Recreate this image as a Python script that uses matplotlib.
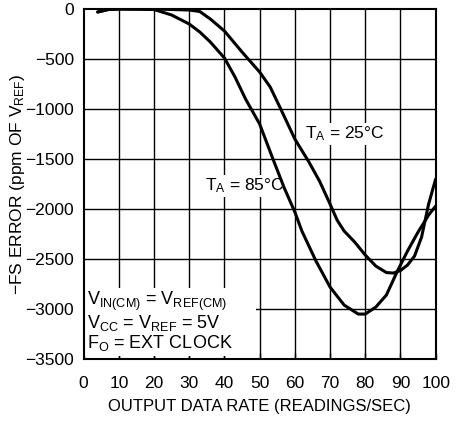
import matplotlib.pyplot as plt
from matplotlib.patches import Rectangle

plt.rcParams["font.family"] = ["Liberation Sans", "DejaVu Sans"]
plt.rcParams["mathtext.default"] = "regular"

rate_25 = [4, 7, 10, 20, 30, 33, 36, 40, 45, 50, 53, 56, 60, 64, 67, 70, 72, 74,
           77, 80, 83, 86, 88, 90, 92, 94, 96, 98, 100]
err_25 = [-30, -5, 0, 0, -10, -25, -100, -220, -430, -630, -780, -1000, -1300,
          -1530, -1720, -1950, -2110, -2220, -2330, -2460, -2570, -2635, -2640,
          -2615, -2560, -2470, -2280, -1950, -1700]

rate_85 = [4, 7, 10, 20, 25, 30, 33, 36, 40, 43, 46, 50, 54, 57, 60, 62, 66, 70,
           74, 78, 80, 83, 86, 89, 92, 95, 98, 100]
err_85 = [-30, -5, 0, -5, -60, -150, -230, -330, -490, -680, -900, -1150, -1520,
          -1790, -2030, -2220, -2520, -2780, -2960, -3050, -3050, -2980, -2860,
          -2630, -2420, -2230, -2060, -1970]

x_ticks = [0, 10, 20, 30, 40, 50, 60, 70, 80, 90, 100]
y_ticks = [0, -500, -1000, -1500, -2000, -2500, -3000, -3500]
y_labels = ["0", "−500", "−1000", "−1500", "−2000", "−2500", "−3000", "−3500"]

note = ("V$_{IN(CM)}$ = V$_{REF(CM)}$\n"
        "V$_{CC}$ = V$_{REF}$ = 5V\n"
        "F$_O$ = EXT CLOCK")

fig = plt.figure(figsize=(4.62, 4.29), dpi=100)
ax = fig.add_axes([0.181, 0.163, 0.762, 0.816])

# grid drawn by hand so the note box can sit over it
for xv in x_ticks[1:-1]:
    ax.axvline(xv, color="black", lw=1.0, zorder=1)
for yv in y_ticks[1:-1]:
    ax.axhline(yv, color="black", lw=1.0, zorder=1)

# white area behind the conditions note
ax.add_patch(Rectangle((0.3, -3470), 48.6, 680, facecolor="white",
                       edgecolor="none", zorder=2))

ax.plot(rate_25, err_25, color="black", lw=2.2, zorder=4,
        solid_capstyle="round")
ax.plot(rate_85, err_85, color="black", lw=2.2, zorder=4,
        solid_capstyle="round")

ax.set_xlim(0, 100)
ax.set_ylim(-3500, 0)
ax.set_xticks(x_ticks)
ax.set_yticks(y_ticks)
ax.set_yticklabels(y_labels)
ax.tick_params(axis="x", direction="in", length=4, width=1, labelsize=12.5,
               pad=12)
ax.tick_params(axis="y", length=0, labelsize=12.5, pad=7)
for s in ax.spines.values():
    s.set_linewidth(1.5)
    s.set_zorder(5)

ax.set_xlabel("OUTPUT DATA RATE (READINGS/SEC)", fontsize=12, labelpad=6)
ax.set_ylabel("$-$FS ERROR (ppm OF V$_{REF}$)", fontsize=12.5)
ax.yaxis.set_label_coords(-0.162, 0.5)

box = dict(facecolor="white", edgecolor="none", pad=1.5)
ax.text(63.0, -1250, "T$_A$ = 25°C", fontsize=12.5, va="center", ha="left",
        bbox=box, zorder=3)
ax.text(34.6, -1770, "T$_A$ = 85°C", fontsize=12.5, va="center", ha="left",
        bbox=box, zorder=3)

ax.text(1.0, -3120, note, fontsize=13, va="center", ha="left",
        linespacing=1.0, zorder=3)

fig.savefig("out.png", dpi=100)
